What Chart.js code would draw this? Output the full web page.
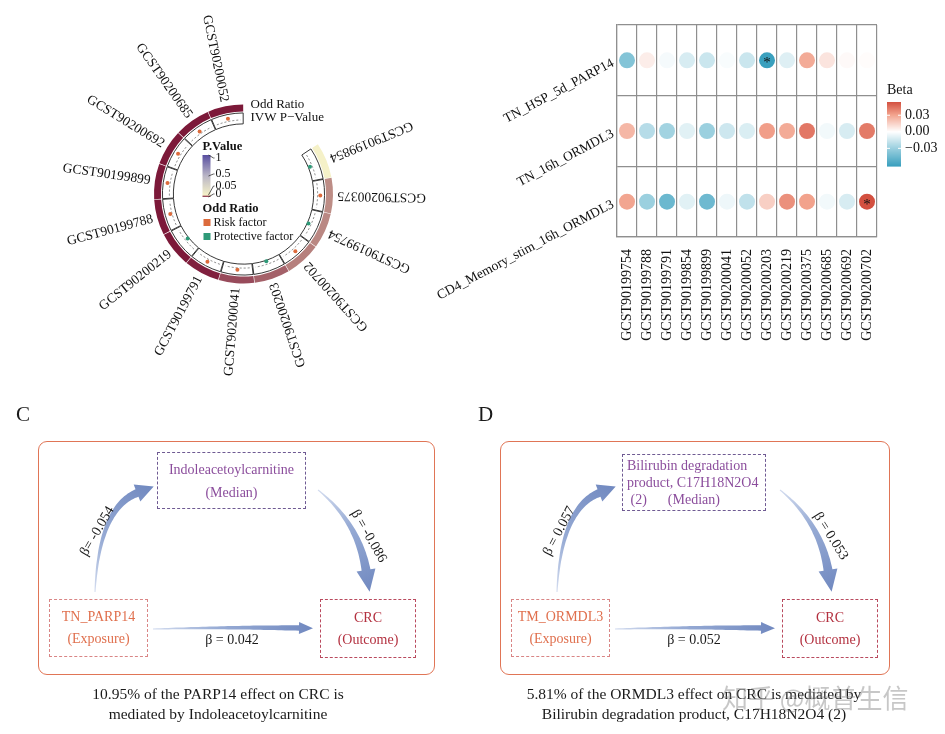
<!DOCTYPE html>
<html>
<head>
<meta charset="utf-8">
<script src="https://cdn.jsdelivr.net/npm/chart.js@4.4.1/dist/chart.umd.min.js"></script>
<style>
body { margin: 0; background: #fff; font-family: "Liberation Serif", serif; color: #1a1a1a; }
#page { position: relative; width: 945px; height: 734px; overflow: hidden; }
canvas { position: absolute; }
.t { position: absolute; white-space: nowrap; }
.box { position: absolute; box-sizing: border-box; display: flex; flex-direction: column; justify-content: center; align-items: center; text-align: center; font-size: 14px; line-height: 22px; }
.frame { position: absolute; box-sizing: border-box; border: 1.5px solid #e07556; border-radius: 9px; }
.beta { position: absolute; font-size: 14px; white-space: nowrap; transform: translate(-50%, -50%); }
.cap { position: absolute; width: 420px; text-align: center; font-size: 15.5px; line-height: 20px; }
.lab { position: absolute; font-size: 21px; }
</style>
</head>
<body>
<div id="page">
  <canvas id="circos" width="470" height="390" style="left:0;top:0"></canvas>
  <canvas id="heat" width="545" height="390" style="left:400px;top:0"></canvas>
  <svg id="arrows" width="945" height="734" style="position:absolute;left:0;top:0"></svg>
</div>
<script>
// ---- circular plot data (clockwise from the gap) ----
const gwasIds = ['GCST90199854', 'GCST90200375', 'GCST90199754', 'GCST90200702', 'GCST90200203',
  'GCST90200041', 'GCST90199791', 'GCST90200219', 'GCST90199788', 'GCST90199899',
  'GCST90200692', 'GCST90200685', 'GCST90200052'];
const ivwP = [0.052, 0.027, 0.026, 0.024, 0.017, 0.012, 0.002, 0.0005, 0.0004, 0.0004, 0.0005, 0.0004, 0.0004];
const oddsRatio = [0.975, 1.03, 0.97, 1.035, 0.965, 1.02, 1.03, 0.97, 1.02, 1.03, 1.03, 1.025, 1.03];
const pTicks = [1, 0.5, 0.05, 0];

// ---- heatmap data ----
const heatCols = ['GCST90199754', 'GCST90199788', 'GCST90199791', 'GCST90199854', 'GCST90199899',
  'GCST90200041', 'GCST90200052', 'GCST90200203', 'GCST90200219', 'GCST90200375',
  'GCST90200685', 'GCST90200692', 'GCST90200702'];
const heatRows = ['TN_HSP_5d_PARP14', 'TN_16h_ORMDL3', 'CD4_Memory_stim_16h_ORMDL3'];
const betaPARP14 = [-0.038, 0.006, -0.003, -0.012, -0.016, -0.002, -0.016, -0.062, -0.010, 0.028, 0.009, 0.002, 0.001];
const beta16hORMDL3 = [0.024, -0.022, -0.028, -0.009, -0.030, -0.015, -0.011, 0.032, 0.028, 0.043, -0.004, -0.012, 0.042];
const betaCD4ORMDL3 = [0.030, -0.030, -0.046, -0.009, -0.045, -0.005, -0.019, 0.016, 0.036, 0.031, -0.004, -0.012, 0.054];
const starPARP14 = ['GCST90200203'];
const starCD4ORMDL3 = ['GCST90200702'];
const betaTicks = [0.03, 0.00, -0.03];

// ---- mediation panels ----
const nodesC = ['TN_PARP14', 'Indoleacetoylcarnitine', 'CRC'];
const betaC = [-0.054, -0.086, 0.042];
const nodesD = ['TM_ORMDL3', 'Bilirubin degradation product, C17H18N2O4 (2)', 'CRC'];
const betaD = [0.057, 0.053, 0.052];
const mediatedPct = [10.95, 5.81];

const serif = '"Liberation Serif", serif';
const riskColor = '#dc6b3c';
const protColor = '#2f9a78';

function mix(a, b, t) {
  return a.map((v, i) => Math.round(v + (b[i] - v) * t));
}
const pStops = [[0, [123, 23, 56]], [0.05, [245, 241, 200]], [0.5, [186, 182, 198]], [1, [88, 78, 160]]];
function pColor(p) {
  for (let i = 1; i < pStops.length; i++) {
    if (p <= pStops[i][0]) {
      const t = (p - pStops[i - 1][0]) / (pStops[i][0] - pStops[i - 1][0]);
      const c = mix(pStops[i - 1][1], pStops[i][1], t);
      return `rgb(${c})`;
    }
  }
  return `rgb(${pStops[3][1]})`;
}

const allBeta = betaPARP14.concat(beta16hORMDL3, betaCD4ORMDL3);
const betaMin = Math.min(...allBeta), betaMax = Math.max(...allBeta);
const betaAbs = Math.max(-betaMin, betaMax);
// white -> tint -> full, roughly what a Lab ramp gives
const lowRamp = [[255, 255, 255], [152, 206, 222], [58, 160, 190]];
const highRamp = [[255, 255, 255], [242, 162, 140], [200, 52, 38]];
function betaColor(b) {
  const t = Math.min(Math.abs(b) / betaAbs, 1);
  const ramp = b < 0 ? lowRamp : highRamp;
  const c = t < 0.5 ? mix(ramp[0], ramp[1], t * 2) : mix(ramp[1], ramp[2], t * 2 - 1);
  return `rgb(${c})`;
}

// ---------------- circular plot ----------------
const circosDecor = {
  id: 'circosDecor',
  afterDatasetsDraw(chart) {
    const ctx = chart.ctx;
    const keys = ['x', 'y', 'startAngle', 'endAngle', 'innerRadius', 'outerRadius'];
    const inner = chart.getDatasetMeta(2).data;
    const outer = chart.getDatasetMeta(0).data;
    ctx.save();
    inner.forEach((arc, i) => {
      const p = arc.getProps(keys, true);
      const rm = (p.innerRadius + p.outerRadius) / 2;
      const pad = 3 / rm;
      ctx.setLineDash([2, 2]);
      ctx.strokeStyle = '#555';
      ctx.lineWidth = 0.7;
      ctx.beginPath();
      ctx.arc(p.x, p.y, rm, p.startAngle + pad, p.endAngle - pad);
      ctx.stroke();
      ctx.setLineDash([]);
      const a = (p.startAngle + p.endAngle) / 2;
      const r = rm + (oddsRatio[i] - 1) * 90;
      ctx.fillStyle = oddsRatio[i] >= 1 ? riskColor : protColor;
      ctx.beginPath();
      ctx.arc(p.x + r * Math.cos(a), p.y + r * Math.sin(a), 2, 0, Math.PI * 2);
      ctx.fill();
    });

    // sector names, reading toward the ring
    ctx.font = '13.5px ' + serif;
    ctx.fillStyle = '#111';
    ctx.textAlign = 'right';
    ctx.textBaseline = 'middle';
    outer.forEach((arc, i) => {
      const p = arc.getProps(keys, true);
      const a = (p.startAngle + p.endAngle) / 2;
      const r = p.outerRadius + 6;
      ctx.save();
      ctx.translate(p.x + r * Math.cos(a), p.y + r * Math.sin(a));
      ctx.rotate(a + Math.PI);
      ctx.fillText(gwasIds[i], 0, 0);
      ctx.restore();
    });

    // track names at the gap
    const c0 = outer[0].getProps(keys, true);
    ctx.textAlign = 'left';
    ctx.font = '13px ' + serif;
    ctx.fillText('Odd Ratio', c0.x + 7, c0.y - 89);
    ctx.fillText('IVW P\u2212Value', c0.x + 7, c0.y - 76);

    // legend in the middle
    const lx = c0.x - 41, ly = c0.y - 47;
    ctx.font = 'bold 12.5px ' + serif;
    ctx.fillText('P.Value', lx, ly);
    const bt = ly + 8, bh = 42;
    const g = ctx.createLinearGradient(0, bt + bh, 0, bt);
    pStops.forEach(s => g.addColorStop(s[0], `rgb(${s[1]})`));
    ctx.fillStyle = g;
    ctx.fillRect(lx, bt, 8, bh);
    ctx.strokeStyle = '#333';
    ctx.lineWidth = 0.8;
    ctx.font = '12px ' + serif;
    ctx.fillStyle = '#111';
    const labelY = [bt + 3, bt + 19, bt + 31, bt + 39];
    pTicks.forEach((v, i) => {
      const ty = bt + bh - v * bh;
      ctx.beginPath();
      ctx.moveTo(lx + 6, ty);
      ctx.lineTo(lx + 11, labelY[i]);
      ctx.lineTo(lx + 12, labelY[i]);
      ctx.stroke();
      ctx.fillText(String(v), lx + 13, labelY[i]);
    });
    ctx.font = 'bold 12.5px ' + serif;
    ctx.fillText('Odd Ratio', lx, ly + 62);
    ctx.font = '12px ' + serif;
    ctx.fillStyle = riskColor;
    ctx.fillRect(lx + 1, ly + 72, 7, 7);
    ctx.fillStyle = protColor;
    ctx.fillRect(lx + 1, ly + 86, 7, 7);
    ctx.fillStyle = '#111';
    ctx.fillText('Risk factor', lx + 11, ly + 76);
    ctx.fillText('Protective factor', lx + 11, ly + 90);
    ctx.restore();
  }
};

new Chart(document.getElementById('circos'), {
  type: 'doughnut',
  data: {
    labels: gwasIds,
    datasets: [
      { data: gwasIds.map(() => 1), backgroundColor: ivwP.map(pColor), borderWidth: 0, spacing: 3, weight: 7 },
      { data: gwasIds.map(() => 1), backgroundColor: 'rgba(0,0,0,0)', borderWidth: 0, spacing: 3, weight: 1.5 },
      { data: gwasIds.map(() => 1), backgroundColor: '#fff', borderColor: '#222', borderWidth: 0.9, spacing: 3, weight: 11 }
    ]
  },
  options: {
    responsive: false,
    animation: false,
    events: [],
    rotation: 56,
    circumference: 304,
    cutout: '78%',
    layout: { padding: { left: 154, top: 104.5, right: 137, bottom: 106.5 } },
    plugins: { legend: { display: false }, tooltip: { enabled: false } }
  },
  plugins: [circosDecor]
});

// ---------------- heatmap ----------------
const heatPoints = [];
[betaPARP14, beta16hORMDL3, betaCD4ORMDL3].forEach((row, ri) => {
  row.forEach((b, ci) => heatPoints.push({ x: heatCols[ci], y: heatRows[ri], r: 8, beta: b }));
});
const stars = [[starPARP14, 0], [starCD4ORMDL3, 2]];

const heatDecor = {
  id: 'heatDecor',
  afterDraw(chart) {
    const ctx = chart.ctx;
    const { x: xs, y: ys } = chart.scales;
    const area = chart.chartArea;
    ctx.save();
    // row labels, tilted
    ctx.font = '13.5px ' + serif;
    ctx.fillStyle = '#111';
    ctx.textAlign = 'right';
    ctx.textBaseline = 'middle';
    heatRows.forEach((lab, i) => {
      ctx.save();
      ctx.translate(area.left - 4, ys.getPixelForValue(i) + 2);
      ctx.rotate(-28 * Math.PI / 180);
      ctx.fillText(lab, 0, 0);
      ctx.restore();
    });
    // significance stars
    ctx.textAlign = 'center';
    ctx.font = '15px ' + serif;
    stars.forEach(([cols, ri]) => cols.forEach(id => {
      const ci = heatCols.indexOf(id);
      ctx.fillText('*', xs.getPixelForValue(ci), ys.getPixelForValue(ri) + 3);
    }));
    // colour bar
    const bx = area.right + 10, top = 102, h = 64;
    ctx.textAlign = 'left';
    ctx.font = '14px ' + serif;
    ctx.fillText('Beta', bx, 90);
    const N = 64;
    for (let k = 0; k < N; k++) {
      const v = betaMax - (betaMax - betaMin) * (k + 0.5) / N;
      ctx.fillStyle = betaColor(v);
      ctx.fillRect(bx, top + k * h / N, 14, h / N + 0.6);
    }
    betaTicks.forEach(v => {
      const ty = top + (betaMax - v) / (betaMax - betaMin) * h;
      ctx.strokeStyle = '#fff';
      ctx.lineWidth = 1;
      ctx.beginPath();
      ctx.moveTo(bx, ty); ctx.lineTo(bx + 3, ty);
      ctx.moveTo(bx + 11, ty); ctx.lineTo(bx + 14, ty);
      ctx.stroke();
      ctx.fillStyle = '#111';
      ctx.fillText(v === 0 ? '0.00' : (v < 0 ? '\u2212' : '') + Math.abs(v).toFixed(2), bx + 18, ty);
    });
    ctx.restore();
  }
};

const gridStyle = { offset: true, color: '#8f8f8f', lineWidth: 1.2, drawTicks: false };
new Chart(document.getElementById('heat'), {
  type: 'bubble',
  data: {
    datasets: [{
      data: heatPoints,
      backgroundColor: c => betaColor(c.raw.beta),
      borderWidth: 0
    }]
  },
  options: {
    responsive: false,
    animation: false,
    events: [],
    layout: { padding: { left: 217, top: 25, right: 68, bottom: 0 } },
    plugins: { legend: { display: false }, tooltip: { enabled: false } },
    scales: {
      x: {
        type: 'category', labels: heatCols, offset: true,
        grid: gridStyle, border: { color: '#8f8f8f', width: 1.2 },
        ticks: { autoSkip: false, minRotation: 90, maxRotation: 90, padding: 12, color: '#111', font: { family: serif, size: 14 } },
        afterFit: s => { s.height = 153; }
      },
      y: {
        type: 'category', labels: heatRows, offset: true,
        grid: gridStyle, border: { color: '#8f8f8f', width: 1.2 },
        ticks: { display: false },
        afterFit: s => { s.width = 0; }
      }
    }
  },
  plugins: [heatDecor]
});

// ---------------- mediation panels ----------------
const page = document.getElementById('page');
function add(cls, html, style) {
  const d = document.createElement('div');
  d.className = cls;
  d.innerHTML = html;
  Object.assign(d.style, style);
  page.appendChild(d);
  return d;
}
function fmt(b) { return (b < 0 ? '-' : '') + Math.abs(b).toFixed(3); }

const svg = document.getElementById('arrows');
const NS = 'http://www.w3.org/2000/svg';
let gradId = 0;
function taper(p0, c, p1, w0, w1, hl, hw) {
  const N = 40, L = [], R = [];
  for (let i = 0; i <= N; i++) {
    const t = i / N, u = 1 - t;
    const x = u * u * p0[0] + 2 * u * t * c[0] + t * t * p1[0];
    const y = u * u * p0[1] + 2 * u * t * c[1] + t * t * p1[1];
    let dx = 2 * u * (c[0] - p0[0]) + 2 * t * (p1[0] - c[0]);
    let dy = 2 * u * (c[1] - p0[1]) + 2 * t * (p1[1] - c[1]);
    const len = Math.hypot(dx, dy); dx /= len; dy /= len;
    const w = (w0 + (w1 - w0) * t) / 2;
    L.push([x - dy * w, y + dx * w]);
    R.push([x + dy * w, y - dx * w]);
  }
  let dx = p1[0] - c[0], dy = p1[1] - c[1];
  const len = Math.hypot(dx, dy); dx /= len; dy /= len;
  const tip = [p1[0] + dx * hl, p1[1] + dy * hl];
  const h1 = [p1[0] - dy * hw / 2, p1[1] + dx * hw / 2];
  const h2 = [p1[0] + dy * hw / 2, p1[1] - dx * hw / 2];
  const pts = L.concat([h1, tip, h2], R.reverse());
  const id = 'ag' + (gradId++);
  const gr = document.createElementNS(NS, 'linearGradient');
  gr.setAttribute('id', id);
  gr.setAttribute('gradientUnits', 'userSpaceOnUse');
  gr.setAttribute('x1', p0[0]); gr.setAttribute('y1', p0[1]);
  gr.setAttribute('x2', tip[0]); gr.setAttribute('y2', tip[1]);
  [['0', '#d3dcef'], ['0.4', '#98acd5'], ['1', '#7189c0']].forEach(([o, col]) => {
    const s = document.createElementNS(NS, 'stop');
    s.setAttribute('offset', o); s.setAttribute('stop-color', col);
    gr.appendChild(s);
  });
  svg.appendChild(gr);
  const path = document.createElementNS(NS, 'path');
  path.setAttribute('d', 'M' + pts.map(p => p[0].toFixed(1) + ',' + p[1].toFixed(1)).join('L') + 'Z');
  path.setAttribute('fill', `url(#${id})`);
  svg.appendChild(path);
}

function panel(dx, letter, nodes, betas, medianHtml, medianStyle, caption, capLeft, angles) {
  add('lab', letter, { left: (16 + dx) + 'px', top: '402px' });
  add('frame', '', { left: (38 + dx) + 'px', top: '441px', width: (dx ? 390 : 397) + 'px', height: '234px' });
  add('box', medianHtml, Object.assign({ left: (157 + dx) + 'px', top: '452px', width: '149px', height: '57px', border: '1px dashed #6f5a93', color: '#8b4d9c' }, medianStyle));
  add('box', nodes[0] + '<br>(Exposure)', { left: (49 + dx) + 'px', top: '599px', width: '99px', height: '58px', border: '1px dashed #d98585', color: '#e0704e' });
  add('box', nodes[2] + '<br>(Outcome)', { left: (320 + dx) + 'px', top: '599px', width: '96px', height: '59px', border: '1px dashed #b94a5e', color: '#b3303f' });
  taper([95 + dx, 592], [99 + dx, 508], [137 + dx, 493], 1, 8, 18, 18);
  taper([318 + dx, 490], [358 + dx, 522], [366 + dx, 570], 1, 9, 22, 19);
  taper([153 + dx, 629], [230 + dx, 627], [299 + dx, 628], 1, 5.5, 14, 12);
  add('beta', (dx ? '\u03b2 = ' : '\u03b2= ') + fmt(betas[0]), { left: (97 + dx) + 'px', top: '531px', transform: `translate(-50%,-50%) rotate(${angles[0]}deg)` });
  add('beta', '\u03b2 = ' + fmt(betas[1]), { left: (369 + dx) + 'px', top: '536px', transform: `translate(-50%,-50%) rotate(${angles[1]}deg)` });
  add('beta', '\u03b2 = ' + fmt(betas[2]), { left: (232 + dx) + 'px', top: '640px' });
  add('cap', caption, { left: capLeft + 'px', top: '684px' });
}

panel(0, 'C', nodesC, betaC,
  nodesC[1] + '<br>(Median)', { lineHeight: '23px' },
  `${mediatedPct[0].toFixed(2)}% of the PARP14 effect on CRC is<br>mediated by ${nodesC[1]}`, 8, [-60, 60]);
panel(462, 'D', nodesD, betaD,
  'Bilirubin degradation<br>product, C17H18N2O4<br><span style="white-space:pre"> (2)      (Median)</span>',
  { alignItems: 'flex-start', textAlign: 'left', paddingLeft: '4px', lineHeight: '17px', width: '144px', left: '622px', top: '454px' },
  `${mediatedPct[1].toFixed(2)}% of the ORMDL3 effect on CRC is mediated by<br>${nodesD[1]}`, 484, [-62, 58]);

// watermark
add('t', '知乎 @概普生信', { left: '722px', top: '678px', fontFamily: '"Noto Sans CJK SC"', fontSize: '26px', color: 'rgba(130,130,130,0.45)' });
</script>
</body>
</html>
